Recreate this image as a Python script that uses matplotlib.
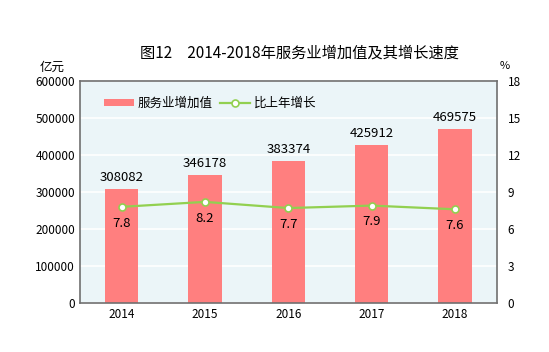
import matplotlib.pyplot as plt
import numpy as np

plt.rcParams['font.family'] = ['Noto Sans CJK SC', 'DejaVu Sans']

years = ['2014', '2015', '2016', '2017', '2018']
added_value = [308082, 346178, 383374, 425912, 469575]  # 亿元
growth = [7.8, 8.2, 7.7, 7.9, 7.6]  # %

fig = plt.figure(figsize=(5.49, 3.52), dpi=100)
ax = fig.add_axes([0.1457, 0.139, 0.759, 0.631])
ax.set_facecolor('#ebf5f8')

x = np.arange(len(years))
ax.bar(x, added_value, width=0.4, color='#ff7f7f', zorder=2, label='服务业增加值')
for xi, v in zip(x, added_value):
    ax.text(xi, v + 14000, str(v), ha='center', va='bottom', fontsize=9.5)

ax.set_xlim(-0.5, 4.5)
ax.set_ylim(0, 600000)
ax.set_yticks(np.arange(0, 600001, 100000))
ax.grid(axis='y', color='white', linewidth=1.2, zorder=1)
ax.tick_params(axis='both', length=0, labelsize=8.5)
ax.set_xticks(x)
ax.set_xticklabels(years)
for s in ax.spines.values():
    s.set_color('#707070')
    s.set_linewidth(1.2)

ax2 = ax.twinx()
ax2.plot(x, growth, color='#92d050', lw=1.6, marker='o', ms=5,
         mfc='white', mec='#92d050', mew=1.2, zorder=3, label='比上年增长')
for xi, g in zip(x, growth):
    ax2.text(xi, g - 0.8, str(g), ha='center', va='top', fontsize=9.5)
ax2.set_ylim(0, 18)
ax2.set_yticks(np.arange(0, 19, 3))
ax2.tick_params(axis='y', length=0, labelsize=8.5, pad=8)
for s in ax2.spines.values():
    s.set_visible(False)

h1, l1 = ax.get_legend_handles_labels()
h2, l2 = ax2.get_legend_handles_labels()
ax.legend(h1 + h2, l1 + l2, loc='upper left', bbox_to_anchor=(0.03, 0.98), ncol=2,
          frameon=False, fontsize=9, handlelength=2.4, handleheight=0.5,
          columnspacing=0.6, handletextpad=0.3)

fig.text(0.545, 0.85, '图12　2014-2018年服务业增加值及其增长速度',
         ha='center', va='center', fontsize=11)
fig.text(0.095, 0.81, '亿元', ha='center', va='center', fontsize=9)
fig.text(0.92, 0.812, '%', ha='center', va='center', fontsize=8)

fig.savefig('out.png', dpi=100)
